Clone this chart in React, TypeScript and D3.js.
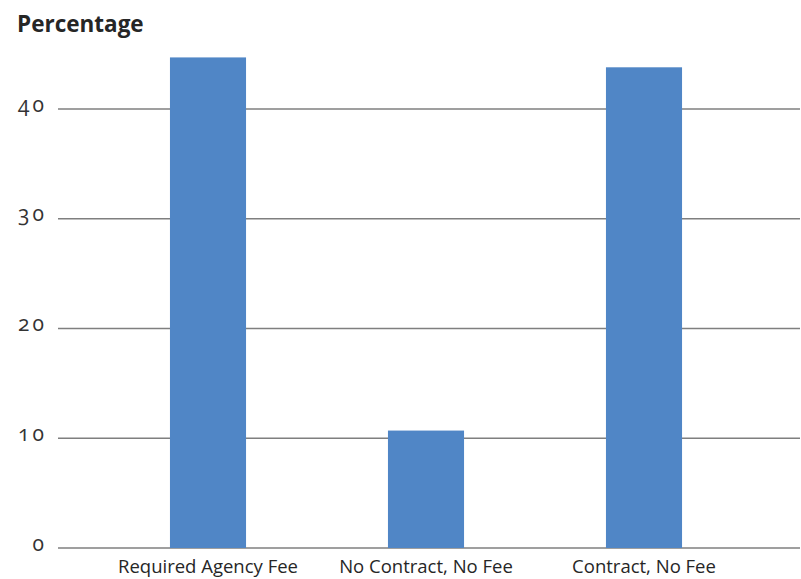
import React from "react";
import * as d3 from "d3";

const categories = ["Required Agency Fee", "No Contract, No Fee", "Contract, No Fee"];
const values = [44.7, 10.7, 43.8];
const yTicks = [0, 10, 20, 30, 40];
const yTitle = "Percentage";

export default function App() {
  const W = 801, H = 579;
  const x = d3.scaleBand<string>().domain(categories).range([99, 753]).paddingInner(0.651).paddingOuter(0.3255);
  const y = d3.scaleLinear().domain([0, 40]).range([548, 109]);
  const font = "'Open Sans', sans-serif";
  return (
    <svg width={W} height={H} style={{ position: "absolute", left: 0, top: 0, background: "#fff" }}>
      <text x={17} y={32} fontFamily={font} fontWeight={700} fontSize={22.5} fill="#262626">{yTitle}</text>
      {yTicks.map((t) => (
        <g key={t}>
          <line x1={58} x2={800} y1={y(t)} y2={y(t)} stroke="#7f7f7f" strokeWidth={1.3} />
          <text x={47} y={y(t)} dy="0.12em" textAnchor="end" fontFamily={font} fontSize={21} fill="#333" letterSpacing={3} style={{ fontVariantNumeric: "oldstyle-nums" }}>{t}</text>
        </g>
      ))}
      {categories.map((c, i) => (
        <rect key={c} x={x(c)} width={x.bandwidth()} y={y(values[i])} height={y(0) - y(values[i])} fill="#5086c6" />
      ))}
      {categories.map((c) => (
        <text key={c} x={(x(c) as number) + x.bandwidth() / 2} y={572.5} textAnchor="middle" fontFamily={font} fontSize={18.5} fill="#262626">{c}</text>
      ))}
    </svg>
  );
}
